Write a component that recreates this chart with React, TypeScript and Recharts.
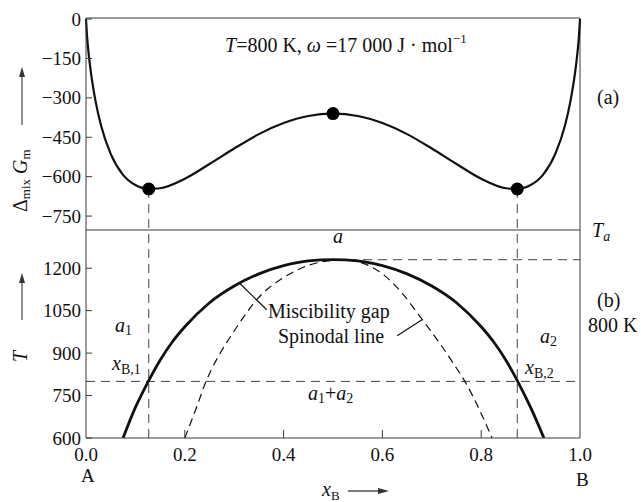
import { ComposedChart, Line, XAxis, YAxis, ReferenceLine } from "recharts";

// top panel: Δmix Gm against xB at T = 800 K
const gX = [0, 0.002, 0.005, 0.01, 0.02, 0.03, 0.05, 0.075, 0.1, 0.127, 0.15, 0.2, 0.25, 0.3, 0.35, 0.4, 0.45, 0.5, 0.55, 0.6, 0.65, 0.7, 0.75, 0.8, 0.85, 0.873, 0.9, 0.925, 0.95, 0.97, 0.98, 0.99, 0.995, 0.998, 1];
const gVal = [0, -62, -125, -204, -319, -402, -513, -593, -632, -647, -644, -608, -552, -493, -438, -396, -369, -360, -369, -396, -438, -493, -552, -608, -644, -647, -632, -593, -513, -402, -319, -204, -125, -62, 0];
const dotX = [0.127, 0.5, 0.873];
const dotVal = [-647, -360, -647];

// bottom panel: miscibility gap and spinodal line
const binX = [0.075, 0.1, 0.127, 0.15, 0.175, 0.2, 0.25, 0.3, 0.35, 0.4, 0.45, 0.5, 0.55, 0.6, 0.65, 0.7, 0.75, 0.8, 0.825, 0.85, 0.873, 0.9, 0.927];
const binT = [600, 708, 803, 875, 940, 993, 1078, 1137, 1180, 1209, 1226, 1230, 1226, 1209, 1180, 1137, 1078, 993, 940, 875, 803, 708, 600];
const spiX = [0.2, 0.222, 0.243, 0.27, 0.295, 0.32, 0.345, 0.37, 0.4, 0.45, 0.5, 0.52, 0.56, 0.6, 0.636, 0.68, 0.72, 0.745, 0.767, 0.795, 0.822];
const spiT = [600, 700, 800, 895, 965, 1030, 1088, 1130, 1167, 1210, 1228, 1230, 1218, 1180, 1120, 1020, 925, 860, 800, 705, 600];

const xB1 = 0.127;
const xB2 = 0.873;
const T800 = 800;
const Tc = 1230;

const gTicks = [0, -150, -300, -450, -600, -750];
const tTicks = [600, 750, 900, 1050, 1200];
const xTicks = [0, 0.2, 0.4, 0.6, 0.8, 1];

const gDomain = [-803, 4];
const tDomain = [600, 1335];

const gData = gX.map((x, i) => ({ x, g: gVal[i] }));
const dotData = dotX.map((x, i) => ({ x, g: dotVal[i] }));
const binData = binX.map((x, i) => ({ x, t: binT[i] }));
const spiData = spiX.map((x, i) => ({ x, t: spiT[i] }));

const FONT = "Liberation Serif";
const TXT = { fontFamily: FONT };
const FRAME = "#3a3a3a";
const INK = "#111";
const LEFT = 86;
const BOTTOM = 438;

const YTick = (props: any) => {
  const { y, payload } = props;
  const v = payload.value;
  const label = v < 0 ? "\u2212" + Math.abs(v) : String(v);
  return (
    <g>
      <line x1={LEFT} x2={LEFT + 6} y1={y} y2={y} stroke={FRAME} />
      <text x={81} y={y + 6.5} textAnchor="end" fontSize={19} style={TXT} fill={INK}>
        {label}
      </text>
    </g>
  );
};

const XTick = (props: any) => {
  const { x, payload } = props;
  const v = payload.value;
  return (
    <g>
      {v > 0 && v < 1 && <line x1={x} x2={x} y1={BOTTOM} y2={BOTTOM - 8} stroke={FRAME} />}
      <text x={x} y={461} textAnchor="middle" fontSize={19} style={TXT} fill={INK}>
        {v.toFixed(1)}
      </text>
    </g>
  );
};

const Arrow = ({ x, y1, y2 }: { x: number; y1: number; y2: number }) => (
  <g>
    <line x1={x} x2={x} y1={y1} y2={y2 + 8} stroke="#555" strokeWidth={1.3} />
    <polygon points={`${x - 3},${y2 + 10} ${x},${y2} ${x + 3},${y2 + 10}`} fill="#333" />
  </g>
);

export default function App() {
  return (
    <div style={{ position: "absolute", left: 0, top: 0, width: 641, height: 502, background: "#fff" }}>
      <div style={{ position: "absolute", left: 0, top: 0 }}>
        <ComposedChart width={641} height={502} margin={{ top: 18, right: 61, bottom: 272, left: 0 }}>
          <XAxis dataKey="x" type="number" domain={[0, 1]} hide />
          <YAxis
            type="number"
            domain={gDomain}
            ticks={gTicks}
            width={LEFT}
            tick={<YTick />}
            tickLine={false}
            axisLine={{ stroke: FRAME }}
            allowDataOverflow
          />
          <ReferenceLine y={gDomain[1]} stroke={FRAME} />
          <ReferenceLine x={1} stroke={FRAME} />
          <ReferenceLine segment={[{ x: xB1, y: dotVal[0] }, { x: xB1, y: gDomain[0] }]} stroke="#444" strokeDasharray="9 6" />
          <ReferenceLine segment={[{ x: xB2, y: dotVal[2] }, { x: xB2, y: gDomain[0] }]} stroke="#444" strokeDasharray="9 6" />
          <Line data={gData} dataKey="g" type="monotone" stroke={INK} strokeWidth={2.2} dot={false} isAnimationActive={false} />
          <Line data={dotData} dataKey="g" stroke="none" dot={{ r: 6.5, fill: "#000", stroke: "none" }} isAnimationActive={false} />
        </ComposedChart>
      </div>
      <div style={{ position: "absolute", left: 0, top: 0 }}>
        <ComposedChart width={641} height={502} margin={{ top: 230, right: 61, bottom: 0, left: 0 }}>
          <XAxis
            dataKey="x"
            type="number"
            domain={[0, 1]}
            ticks={xTicks}
            height={64}
            tick={<XTick />}
            tickLine={false}
            axisLine={{ stroke: FRAME }}
          />
          <YAxis
            type="number"
            domain={tDomain}
            ticks={tTicks}
            width={LEFT}
            tick={<YTick />}
            tickLine={false}
            axisLine={{ stroke: FRAME }}
            allowDataOverflow
          />
          <ReferenceLine y={tDomain[1]} stroke={FRAME} />
          <ReferenceLine x={1} stroke={FRAME} />
          <ReferenceLine x={xB1} stroke="#444" strokeDasharray="9 6" />
          <ReferenceLine x={xB2} stroke="#444" strokeDasharray="9 6" />
          <ReferenceLine y={T800} stroke="#444" strokeDasharray="9 6" />
          <ReferenceLine segment={[{ x: 0.5, y: Tc }, { x: 1, y: Tc }]} stroke="#444" strokeDasharray="9 6" />
          <ReferenceLine segment={[{ x: 0.312, y: 1145 }, { x: 0.366, y: 1053 }]} stroke={INK} strokeWidth={1.2} />
          <ReferenceLine segment={[{ x: 0.63, y: 961 }, { x: 0.68, y: 1018 }]} stroke={INK} strokeWidth={1.2} />
          <Line data={spiData} dataKey="t" type="monotone" stroke={INK} strokeWidth={1.2} strokeDasharray="8 5" dot={false} isAnimationActive={false} />
          <Line data={binData} dataKey="t" type="monotone" stroke={INK} strokeWidth={2.8} dot={false} isAnimationActive={false} />
        </ComposedChart>
      </div>
      <svg width={641} height={502} style={{ position: "absolute", left: 0, top: 0, pointerEvents: "none" }} fill={INK}>
        <text x={225} y={52} fontSize={20} style={TXT}>
          <tspan fontStyle="italic">T</tspan>=800 K, <tspan fontStyle="italic">ω</tspan> =17 000 J · mol
          <tspan dy={-9} fontSize={13}>−1</tspan>
        </text>
        <text x={597} y={104} fontSize={20} style={TXT}>(a)</text>
        <text x={597} y={307} fontSize={20} style={TXT}>(b)</text>
        <text x={588} y={332} fontSize={20} style={TXT}>800 K</text>
        <text x={592} y={237} fontSize={20} fontStyle="italic" style={TXT}>
          T<tspan dy={4} fontSize={14}>a</tspan>
        </text>
        <text x={333} y={243} fontSize={20} fontStyle="italic" style={TXT}>a</text>
        <text x={115} y={332} fontSize={20} style={TXT}>
          <tspan fontStyle="italic">a</tspan>
          <tspan dy={3} fontSize={14}>1</tspan>
        </text>
        <text x={112} y={370} fontSize={20} style={TXT}>
          <tspan fontStyle="italic">x</tspan>
          <tspan dy={4} fontSize={14}>B,1</tspan>
        </text>
        <text x={540} y={343} fontSize={20} style={TXT}>
          <tspan fontStyle="italic">a</tspan>
          <tspan dy={3} fontSize={14}>2</tspan>
        </text>
        <text x={525} y={374} fontSize={20} style={TXT}>
          <tspan fontStyle="italic">x</tspan>
          <tspan dy={4} fontSize={14}>B,2</tspan>
        </text>
        <text x={308} y={400} fontSize={20} style={TXT}>
          <tspan fontStyle="italic">a</tspan>
          <tspan dy={3} fontSize={14}>1</tspan>
          <tspan dy={-3}>+</tspan>
          <tspan fontStyle="italic">a</tspan>
          <tspan dy={3} fontSize={14}>2</tspan>
        </text>
        <text x={268} y={318} fontSize={20} style={TXT}>Miscibility gap</text>
        <text x={278} y={343} fontSize={20} style={TXT}>Spinodal line</text>
        <text x={81} y={482} fontSize={19} style={TXT}>A</text>
        <text x={576} y={486} fontSize={19} style={TXT}>B</text>
        <text x={322} y={496} fontSize={20} style={TXT}>
          <tspan fontStyle="italic">x</tspan>
          <tspan dy={4} fontSize={13}>B</tspan>
        </text>
        <line x1={348} x2={380} y1={491} y2={491} stroke="#333" strokeWidth={1.3} />
        <polygon points="378,488 389,491 378,494" fill="#333" />
        <text transform="translate(27,212) rotate(-90)" fontSize={20} style={TXT}>
          Δ<tspan dy={3} fontSize={13}>mix</tspan>
          <tspan dy={-3} fontStyle="italic"> G</tspan>
          <tspan dy={3} fontSize={13}>m</tspan>
        </text>
        <Arrow x={22} y1={125} y2={67} />
        <text transform="translate(27,362) rotate(-90)" fontSize={20} fontStyle="italic" style={TXT}>T</text>
        <Arrow x={22} y1={320} y2={273} />
      </svg>
    </div>
  );
}
